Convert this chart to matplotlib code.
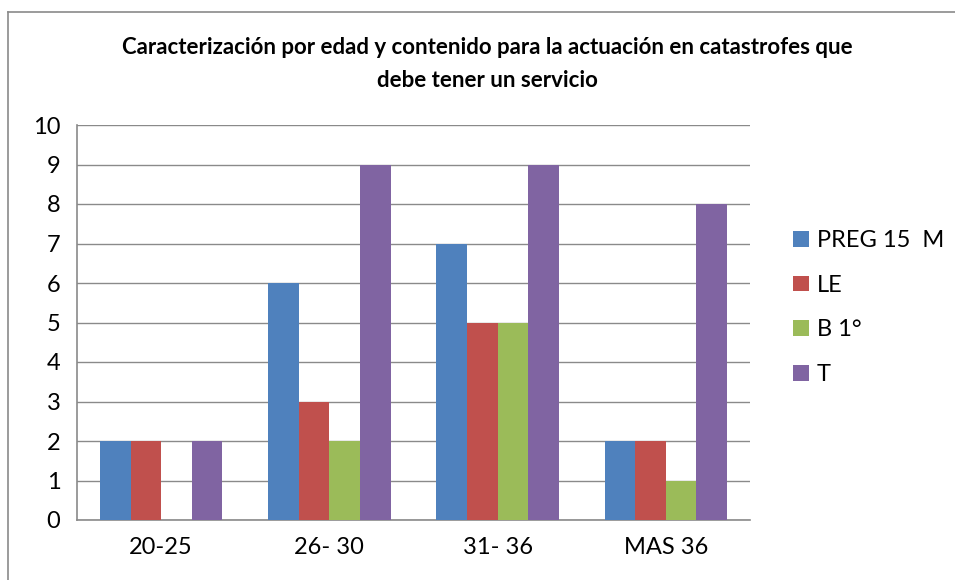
import matplotlib
matplotlib.use('Agg')
import matplotlib.pyplot as plt
import numpy as np

plt.rcParams['font.family'] = ['Lato', 'DejaVu Sans']

grupos = ['20-25', '26- 30', '31- 36', 'MAS 36']
series = ['PREG 15  M', 'LE', 'B 1°', 'T']
preg = [2, 6, 7, 2]
le = [2, 3, 5, 2]
b1 = [0, 2, 5, 1]
t = [2, 9, 9, 8]
colores = ['#4F81BD', '#C0504D', '#9BBB59', '#8064A2']

fig = plt.figure(figsize=(9.55, 5.8), dpi=100)
ax = fig.add_axes([77/955, 60/580, 673/955, 395/580])

x = np.arange(len(grupos))
w = 1 / 5.5
for i, vals in enumerate([preg, le, b1, t]):
    ax.bar(x + (i - 1.5) * w, vals, w, color=colores[i], label=series[i], zorder=3)

ax.set_xlim(-0.5, 3.5)
ax.set_ylim(0, 10)
ax.set_yticks(range(0, 11))
ax.set_xticks(x)
ax.set_xticklabels(grupos)
ax.tick_params(axis='both', labelsize=17, length=0)
ax.tick_params(axis='y', pad=12)
ax.tick_params(axis='x', pad=12)
ax.grid(axis='y', color='#8a8a8a', linewidth=1, zorder=0)
for s in ['top', 'right']:
    ax.spines[s].set_visible(False)
for s in ['left', 'bottom']:
    ax.spines[s].set_color('#8a8a8a')
    ax.spines[s].set_linewidth(1.2)

fig.text(0.51, 1 - 48/580, 'Caracterización por edad y contenido para la actuación en catastrofes que',
         ha='center', va='center', fontsize=16, fontweight='bold')
fig.text(0.51, 1 - 80/580, 'debe tener un servicio',
         ha='center', va='center', fontsize=16, fontweight='bold')

leg = ax.legend(loc='center left', bbox_to_anchor=(784/955, 1 - 307.5/580),
                bbox_transform=fig.transFigure, borderaxespad=0,
                frameon=False, fontsize=17, handlelength=0.65, handleheight=0.65,
                handletextpad=0.35, labelspacing=1.0)

# borde del grafico
fig.add_artist(plt.Line2D([8/955, 8/955], [0, 1 - 12/580], color='#8a8a8a', lw=1.2, transform=fig.transFigure))
fig.add_artist(plt.Line2D([8/955, 1], [1 - 12/580, 1 - 12/580], color='#8a8a8a', lw=1.2, transform=fig.transFigure))

plt.savefig('out.png', dpi=100)
